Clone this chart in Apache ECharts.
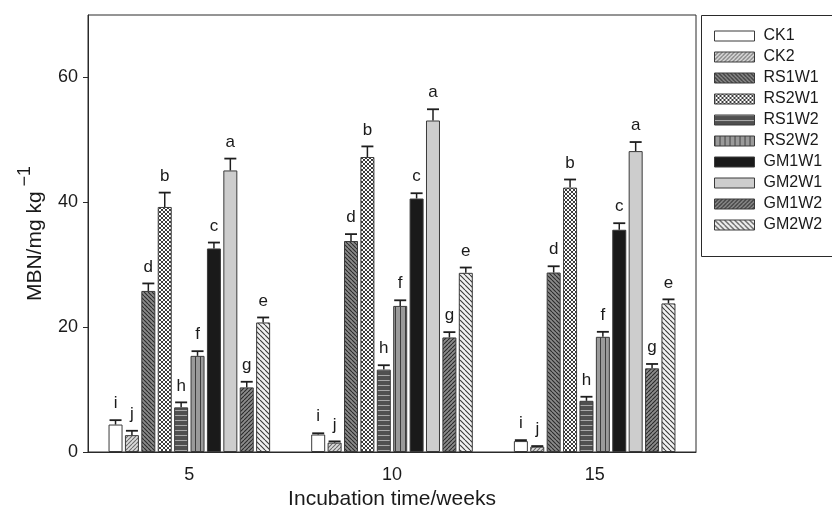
<!DOCTYPE html>
<html>
<head>
<meta charset="utf-8">
<script src="https://cdn.jsdelivr.net/npm/echarts@6/dist/echarts.min.js"></script>
<style>
  html, body { margin: 0; padding: 0; background: #fff; }
  #chart { width: 832px; height: 510px; }
</style>
</head>
<body>
<div id="chart"></div>
<script>
// Incubation times (weeks)
const categories = ['5', '10', '15'];

// Treatment names, in legend order
const treatments = ['CK1', 'CK2', 'RS1W1', 'RS2W1', 'RS1W2', 'RS2W2', 'GM1W1', 'GM2W1', 'GM1W2', 'GM2W2'];

// Mean MBN (mg/kg) at 5, 10 and 15 weeks
const ck1   = [4.4, 2.8, 1.75];
const ck2   = [2.7, 1.5, 0.85];
const rs1w1 = [25.8, 33.8, 28.75];
const rs2w1 = [39.25, 47.25, 42.35];
const rs1w2 = [7.15, 13.2, 8.2];
const rs2w2 = [15.4, 23.4, 18.45];
const gm1w1 = [32.6, 40.6, 35.6];
const gm2w1 = [45.1, 53.1, 48.2];
const gm1w2 = [10.35, 18.35, 13.4];
const gm2w2 = [20.75, 28.7, 23.8];

// Standard errors
const ck1Err   = [0.7, 0.2, 0.15];
const ck2Err   = [0.7, 0.2, 0.1];
const rs1w1Err = [1.2, 1.1, 1.0];
const rs2w1Err = [2.3, 1.7, 1.3];
const rs1w2Err = [0.8, 0.7, 0.65];
const rs2w2Err = [0.75, 0.9, 0.8];
const gm1w1Err = [0.95, 0.85, 1.05];
const gm2w1Err = [1.9, 1.8, 1.45];
const gm1w2Err = [0.9, 0.85, 0.7];
const gm2w2Err = [0.8, 0.85, 0.65];

// Significance letters per treatment
const letters = ['i', 'j', 'd', 'b', 'h', 'f', 'c', 'a', 'g', 'e'];

// Y axis tick labels
const yTicks = [0, 20, 40, 60];

const means = [ck1, ck2, rs1w1, rs2w1, rs1w2, rs2w2, gm1w1, gm2w1, gm1w2, gm2w2];
const errs = [ck1Err, ck2Err, rs1w1Err, rs2w1Err, rs1w2Err, rs2w2Err, gm1w1Err, gm2w1Err, gm1w2Err, gm2w2Err];

// ---- fill patterns ----
function tile(size, bg, draw) {
  const c = document.createElement('canvas');
  c.width = size; c.height = size;
  const g = c.getContext('2d');
  g.fillStyle = bg;
  g.fillRect(0, 0, size, size);
  draw(g, size);
  return { image: c, repeat: 'repeat' };
}
function slash(color, w) {
  return function (g, s) {
    g.strokeStyle = color; g.lineWidth = w; g.beginPath();
    for (let o = -s; o <= s; o += s) { g.moveTo(o, s); g.lineTo(o + s, 0); }
    g.stroke();
  };
}
function backslash(color, w) {
  return function (g, s) {
    g.strokeStyle = color; g.lineWidth = w; g.beginPath();
    for (let o = -s; o <= s; o += s) { g.moveTo(o, 0); g.lineTo(o + s, s); }
    g.stroke();
  };
}
function cross(color, w) {
  return function (g, s) { slash(color, w)(g, s); backslash(color, w)(g, s); };
}
function hlines(color) {
  return function (g, s) { g.fillStyle = color; g.fillRect(0, 0, s, 1); };
}
function vlines(color) {
  return function (g, s) { g.fillStyle = color; g.fillRect(0, 0, 1, s); };
}

const fills = [
  '#ffffff',
  tile(4, '#dcdcdc', slash('#6a6a6a', 1.1)),
  tile(4, '#8a8a8a', backslash('#2a2a2a', 1.1)),
  tile(4, '#ffffff', cross('#262626', 0.9)),
  tile(5, '#505050', hlines('#a8a8a8')),
  tile(5, '#9a9a9a', vlines('#3c3c3c')),
  '#1a1a1a',
  '#cdcdcd',
  tile(4, '#8c8c8c', slash('#2a2a2a', 1.1)),
  tile(5, '#f2f2f2', backslash('#3a3a3a', 1.1))
];

// ---- bar geometry ----
const BAR_W = 14;
const BAR_GAP = 2.4;
const GROUP_W = treatments.length * BAR_W + (treatments.length - 1) * BAR_GAP;

const barSeries = treatments.map(function (name, k) {
  return {
    name: name,
    type: 'bar',
    data: means[k],
    barWidth: BAR_W,
    barGap: (BAR_GAP / BAR_W * 100).toFixed(2) + '%',
    itemStyle: { color: fills[k], borderColor: '#3a3a3a', borderWidth: 1 },
    emphasis: { disabled: true },
    z: 2
  };
});

// Error bars and letters: [category index, treatment index, mean, error]
const errData = [];
means.forEach(function (arr, k) {
  arr.forEach(function (v, c) { errData.push([c, k, v, errs[k][c]]); });
});

const FONT = '"Liberation Sans", Arial, Helvetica, sans-serif';

const errSeries = {
  type: 'custom',
  silent: true,
  z: 5,
  data: errData,
  encode: { x: 0, y: 2 },
  renderItem: function (params, api) {
    const c = api.value(0), k = api.value(1), v = api.value(2), e = api.value(3);
    const p0 = api.coord([c, v]);
    const p1 = api.coord([c, v + e]);
    const x = p0[0] - GROUP_W / 2 + k * (BAR_W + BAR_GAP) + BAR_W / 2;
    const cap = 6;
    return {
      type: 'group',
      children: [
        { type: 'line', shape: { x1: x, y1: p0[1], x2: x, y2: p1[1] }, style: { stroke: '#1e1e1e', lineWidth: 1.5 } },
        { type: 'line', shape: { x1: x - cap, y1: p1[1], x2: x + cap, y2: p1[1] }, style: { stroke: '#1e1e1e', lineWidth: 1.8 } },
        { type: 'text', style: { text: letters[k], x: x, y: p1[1] - 16.5, align: 'center', verticalAlign: 'middle',
            font: '17px ' + FONT, fill: '#1a1a1a' } }
      ]
    };
  }
};

const chart = echarts.init(document.getElementById('chart'), null, { renderer: 'canvas' });
chart.setOption({
  animation: false,
  backgroundColor: '#ffffff',
  textStyle: { fontFamily: FONT },
  grid: {
    left: 88, right: 136, top: 15, bottom: 58,
    outerBoundsMode: 'none', containLabel: false,
    show: true, borderColor: '#2a2a2a', borderWidth: 1, backgroundColor: 'transparent'
  },
  legend: {
    data: treatments,
    orient: 'vertical',
    left: 714,
    top: 28,
    padding: 0,
    itemWidth: 40,
    itemHeight: 10,
    itemGap: 5,
    icon: 'rect',
    itemStyle: { borderColor: '#3a3a3a', borderWidth: 1 },
    textStyle: { fontSize: 16, color: '#1a1a1a', fontFamily: FONT, padding: [0, 0, 0, 4] },
    selectedMode: false
  },
  graphic: [
    { type: 'rect', shape: { x: 701.5, y: 15.5, width: 200, height: 241 }, style: { fill: 'none', stroke: '#2a2a2a', lineWidth: 1 }, silent: true }
  ],
  xAxis: {
    type: 'category',
    data: categories,
    name: 'Incubation time/weeks',
    nameLocation: 'middle',
    nameGap: 35,
    nameTextStyle: { fontSize: 21, color: '#1a1a1a', fontFamily: FONT },
    axisLine: { lineStyle: { color: '#2a2a2a', width: 1 } },
    axisTick: { alignWithLabel: true, length: 5, lineStyle: { color: '#2a2a2a' } },
    axisLabel: { fontSize: 18, color: '#1a1a1a', margin: 14, fontFamily: FONT },
    splitLine: { show: false }
  },
  yAxis: {
    type: 'value',
    min: 0,
    max: 70,
    interval: 20,
    name: '{a|MBN/mg kg}{s| −1}',
    nameLocation: 'middle',
    nameGap: 42,
    nameTextStyle: {
      rich: {
        a: { fontSize: 21, color: '#1a1a1a', fontFamily: FONT, lineHeight: 30, verticalAlign: 'bottom' },
        s: { fontSize: 18, color: '#1a1a1a', fontFamily: FONT, lineHeight: 30, verticalAlign: 'top' }
      }
    },
    axisLine: { show: true, lineStyle: { color: '#2a2a2a', width: 1 } },
    axisTick: { show: true, length: 5, customValues: yTicks, lineStyle: { color: '#2a2a2a' } },
    axisLabel: { fontSize: 18, color: '#1a1a1a', margin: 10, customValues: yTicks, fontFamily: FONT },
    splitLine: { show: false }
  },
  series: barSeries.concat([errSeries])
});
</script>
</body>
</html>
